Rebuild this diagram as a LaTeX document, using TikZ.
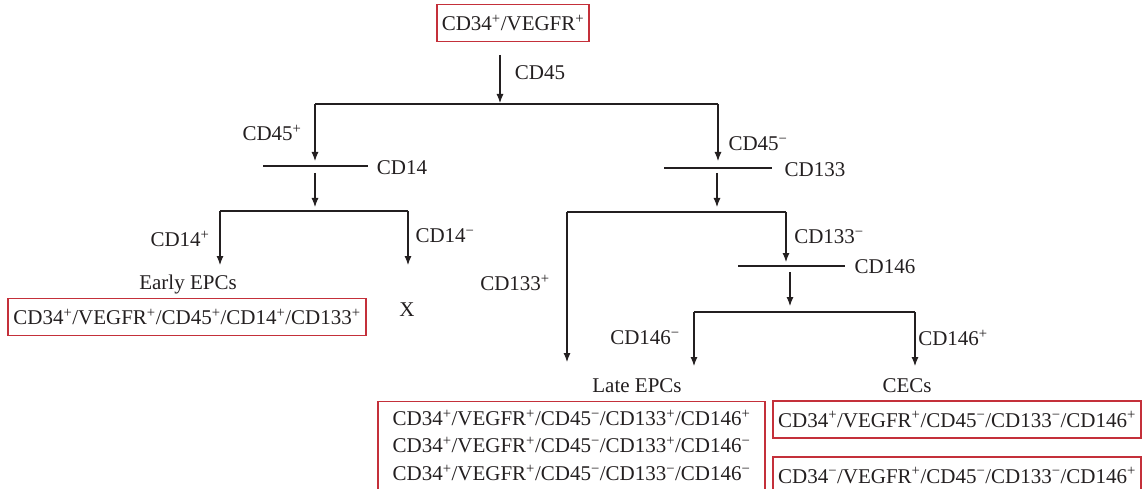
\documentclass[tikz,border=0pt]{standalone}
\usepackage{fontspec}
\setmainfont{Liberation Serif}
\usetikzlibrary{arrows.meta,positioning}
\definecolor{boxred}{RGB}{196,48,58}
\definecolor{inkgray}{RGB}{35,31,32}
\newcommand{\cdp}{\textsuperscript{+}}
\newcommand{\cdm}{\textsuperscript{\char"2212}}

\begin{document}
\begin{tikzpicture}[x=1pt,y=-1pt,
  every node/.style={font=\fontsize{21}{26}\selectfont, inner sep=0pt, text=inkgray},
  redbox/.style={draw=boxred, line width=1.2pt, minimum height=37pt},
  arr/.style={-{Latex[length=9pt,width=7pt]}, line width=1.1pt, draw=inkgray},
  lin/.style={line width=1.1pt, draw=inkgray}]
\clip (0,0) rectangle (1143,489);

% root
\node[redbox, minimum width=152pt] (root) at (513,23) {CD34\cdp/VEGFR\cdp};
\coordinate (r0) at (500,55);
\coordinate (r1) at (500,103);
\draw[arr] (r0) -- (r1);
\node (l45) at (540,73) {CD45};

% first split (CD45)
\coordinate (pL) at (315,104);
\coordinate (pR) at (718,104);
\draw[lin] (pL) -- (pR);
\coordinate (aL) at (315,161);
\coordinate (aR) at (718,161);
\draw[arr] (pL) -- (aL);
\draw[arr] (pR) -- (aR);
\node (l45p) at (272,133) {CD45\cdp};
\node (l45m) at (758,144) {CD45\cdm};

% CD14 branch
\coordinate (b14l) at (263,166);
\coordinate (b14r) at (368,166);
\draw[lin] (b14l) -- (b14r);
\node (l14) at (402,168) {CD14};
\coordinate (c14a) at (315,173);
\coordinate (c14b) at (315,207);
\draw[arr] (c14a) -- (c14b);
\coordinate (qL) at (220,211);
\coordinate (qR) at (408,211);
\draw[lin] (qL) -- (qR);
\coordinate (eL) at (220,265);
\coordinate (eR) at (408,265);
\draw[arr] (qL) -- (eL);
\draw[arr] (qR) -- (eR);
\node (l14p) at (180,239) {CD14\cdp};
\node (l14m) at (445,236) {CD14\cdm};
\node (early) at (188,284) {Early EPCs};
\node[redbox, minimum width=358pt] (earlybox) at (187,317) {CD34\cdp/VEGFR\cdp/CD45\cdp/CD14\cdp/CD133\cdp};
\node (xx) at (407,310) {X};

% CD133 branch
\coordinate (b133l) at (664,168);
\coordinate (b133r) at (772,168);
\draw[lin] (b133l) -- (b133r);
\node (l133) at (815,170) {CD133};
\coordinate (c133a) at (717,173);
\coordinate (c133b) at (717,207);
\draw[arr] (c133a) -- (c133b);
\coordinate (sL) at (567,212);
\coordinate (sR) at (786,212);
\draw[lin] (sL) -- (sR);
\coordinate (fL) at (567,362);
\coordinate (fR) at (786,262);
\draw[arr] (sL) -- (fL);
\draw[arr] (sR) -- (fR);
\node (l133p) at (515,283) {CD133\cdp};
\node (l133m) at (829,237) {CD133\cdm};

% CD146 branch
\coordinate (b146l) at (738,266);
\coordinate (b146r) at (845,266);
\draw[lin] (b146l) -- (b146r);
\node (l146) at (885,267) {CD146};
\coordinate (c146a) at (790,272);
\coordinate (c146b) at (790,306);
\draw[arr] (c146a) -- (c146b);
\coordinate (uL) at (694,312);
\coordinate (uR) at (915,312);
\draw[lin] (uL) -- (uR);
\coordinate (gL) at (694,366);
\coordinate (gR) at (915,366);
\draw[arr] (uL) -- (gL);
\draw[arr] (uR) -- (gR);
\node (l146m) at (645,338) {CD146\cdm};
\node (l146p) at (953,338) {CD146\cdp};

% results
\node (late) at (637,386) {Late EPCs};
\node[redbox, minimum width=387pt, minimum height=100pt, anchor=north] (latebox) at (571.5,401) {};
\node (late1) at (571.5,418) {CD34\cdp/VEGFR\cdp/CD45\cdm/CD133\cdp/CD146\cdp};
\node (late2) at (571.5,445) {CD34\cdp/VEGFR\cdp/CD45\cdm/CD133\cdp/CD146\cdm};
\node (late3) at (571.5,473) {CD34\cdp/VEGFR\cdp/CD45\cdm/CD133\cdm/CD146\cdm};
\node (cecs) at (907,386) {CECs};
\node[redbox, minimum width=368pt] (cec1) at (957,419.5) {CD34\cdp/VEGFR\cdp/CD45\cdm/CD133\cdm/CD146\cdp};
\node[redbox, minimum width=368pt] (cec2) at (957,475.5) {CD34\cdm/VEGFR\cdp/CD45\cdm/CD133\cdm/CD146\cdp};
\end{tikzpicture}
\end{document}
